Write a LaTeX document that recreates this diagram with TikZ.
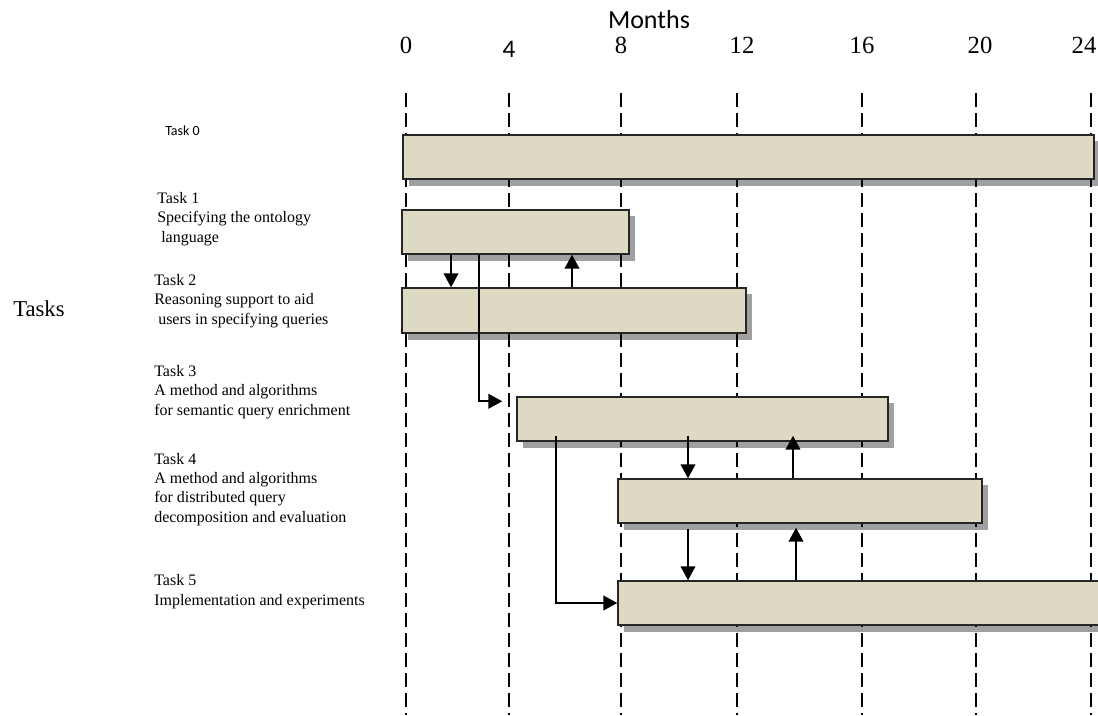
\documentclass[tikz,border=0pt]{standalone}
\usepackage{fontspec}
\setmainfont{Liberation Serif}
\newfontfamily\calib{Carlito}
\usetikzlibrary{arrows.meta,fit,calc}
\definecolor{barfill}{HTML}{DDD9C3}
\definecolor{shadowc}{HTML}{A0A0A0}
\begin{document}
\begin{tikzpicture}[x=0.75pt,y=-0.75pt,
  bar/.style={draw=black!85, line width=1.1pt, fill=barfill, inner sep=0pt},
  shade/.style={fill=shadowc},
  gridline/.style={line width=1.5pt, dash pattern=on 10.5pt off 4.5pt},
  arr/.style={line width=1.5pt, -{Triangle[width=11pt,length=10.5pt]}},
  lbl/.style={anchor=base west, align=left, inner sep=0pt, font=\fontsize{12}{14.5}\selectfont},
  num/.style={anchor=base, inner sep=0pt, font=\fontsize{18.5}{20}\selectfont},
]
\clip (0,0) rectangle (1098,715);
% header
\node[anchor=base, inner sep=0pt, font=\calib\fontsize{19.5}{22}\selectfont] (months) at (649,28) {Months};
\node[num] (n0) at (406,53) {0};
\node[num, font=\calib\fontsize{19}{20}\selectfont] (n4) at (509,57) {4};
\node[num] (n8) at (621,53) {8};
\node[num] (n12) at (742,53) {12};
\node[num] (n16) at (862,53) {16};
\node[num] (n20) at (980,53) {20};
\node[num] (n24) at (1084,53) {24};
% left labels (base = baseline of the last line)
\node[anchor=base west, inner sep=0pt, font=\fontsize{17}{20}\selectfont] (tasks) at (13,316) {Tasks};
\node[anchor=base west, inner sep=0pt, font=\calib\fontsize{10.5}{12}\selectfont] (l0) at (165,135) {Task 0};
\node[lbl] (l1) at (157,242) {Task 1\\Specifying the ontology\\\hspace*{3pt}language};
\node[lbl] (l2) at (154,324) {Task 2\\Reasoning support to aid\\\hspace*{3pt}users in specifying queries};
\node[lbl] (l3) at (154,415) {Task 3\\A method and algorithms\\for semantic query enrichment};
\node[lbl] (l4) at (154,522) {Task 4\\A method and algorithms\\for distributed query\\decomposition and evaluation};
\node[lbl] (l5) at (154,605) {Task 5\\Implementation and experiments};
% shadows
\fill[shade] (409,141) rectangle (1100,186);
\fill[shade] (408,216) rectangle (635,261);
\fill[shade] (408,294) rectangle (752,340);
\fill[shade] (523,403) rectangle (894,448);
\fill[shade] (624,485) rectangle (988,530);
\fill[shade] (624,587) rectangle (1116,632);
% grid lines
\foreach \x in {406,509,621,737,862,976,1091}
  \draw[gridline] (\x,93) -- (\x,715);
% bars
\node[bar, fit={(403,135) (1094,179)}] (t0) {};
\node[bar, fit={(402,210) (629,254)}] (t1) {};
\node[bar, fit={(402,288) (746,333)}] (t2) {};
\node[bar, fit={(517,397) (888,441)}] (t3) {};
\node[bar, fit={(618,479) (982,523)}] (t4) {};
\node[bar, fit={(618,581) (1112,625)}] (t5) {};
% connectors
\draw[arr] (t1.south -| 451,0) -- (t2.north -| 451,0);
\draw[arr] (t2.north -| 572,0) -- (t1.south -| 572,0);
\draw[arr] (t1.south -| 479,0) |- ($(t3.north west)+(-14,5)$);
\draw[arr] ($(t3.south -| 688,0)+(0,-6)$) -- (t4.north -| 688,0);
\draw[arr] (t4.north -| 793,0) -- ($(t3.south -| 793,0)+(0,-6)$);
\draw[arr] ($(t4.south -| 688,0)+(0,5)$) -- (t5.north -| 688,0);
\draw[arr] (t5.north -| 796,0) -- ($(t4.south -| 796,0)+(0,4)$);
\draw[arr] ($(t3.south -| 556,0)+(0,-6)$) |- (t5.west);
\end{tikzpicture}
\end{document}
